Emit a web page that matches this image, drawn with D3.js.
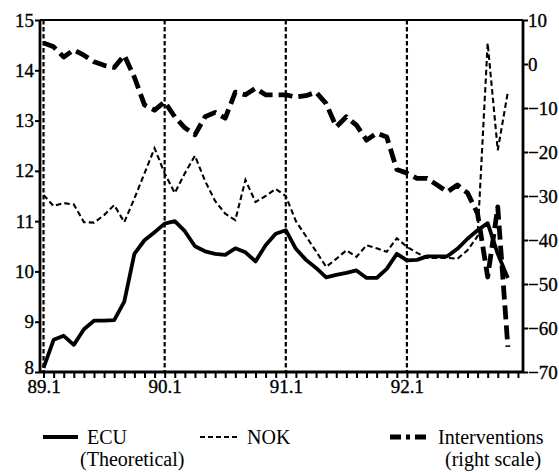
<!DOCTYPE html>
<html><head><meta charset="utf-8">
<script src="https://cdn.jsdelivr.net/npm/d3@7"></script>
<style>
html,body{margin:0;padding:0;background:#fff;}
svg text{font-family:"Liberation Serif","Times New Roman",serif;fill:#000;}
</style></head>
<body><svg id="c" width="559" height="472"></svg>
<script>
// Monthly observations, 89.1 (index 0) through 92.11 (index 46)
const ecu = [8.08,8.64,8.72,8.54,8.85,9.02,9.02,9.03,9.40,10.35,10.62,10.78,10.95,11.00,10.80,10.50,10.40,10.35,10.33,10.46,10.38,10.20,10.52,10.75,10.82,10.45,10.23,10.07,9.88,9.93,9.97,10.02,9.87,9.87,10.05,10.35,10.22,10.23,10.30,10.30,10.30,10.45,10.65,10.82,10.96,10.35,9.87];
const nok = [11.52,11.30,11.36,11.33,10.98,10.97,11.12,11.32,10.98,11.45,11.95,12.45,11.95,11.56,11.95,12.30,11.80,11.40,11.15,11.02,11.82,11.38,11.50,11.64,11.50,11.00,10.70,10.40,10.09,10.25,10.42,10.29,10.52,10.46,10.39,10.66,10.49,10.37,10.27,10.27,10.27,10.25,10.42,10.70,14.54,12.41,13.57];
const interventions = [4.8,3.9,1.6,3.2,2.0,0.5,-0.3,-0.8,2.0,-3.0,-9.3,-10.5,-8.6,-12.0,-14.5,-16.1,-12.0,-11.0,-12.3,-6.4,-7.0,-5.5,-7.0,-7.0,-7.0,-7.5,-7.2,-6.4,-9.0,-14.3,-12.0,-13.9,-17.3,-15.7,-16.6,-24.0,-24.8,-26.0,-26.0,-27.5,-29.1,-27.5,-29.3,-34.0,-48.4,-32.5,-64.3];
const yearLabels = ["89.1","90.1","91.1","92.1"];
const yearIndex = [0,12,24,36];
const leftTicks = [8,9,10,11,12,13,14,15];
const rightTicks = [10,0,-10,-20,-30,-40,-50,-60,-70];
const nMonths = 48;

const L=40, R=523, T=20, B=372;
const svg = d3.select("#c");
const x = d3.scaleLinear().domain([-0.35, 47.5]).range([L, R]);
const yL = d3.scaleLinear().domain([8, 15]).range([B, T]);
const yR = d3.scaleLinear().domain([-70, 10]).range([B, T]);

// vertical dashed reference lines
svg.append("g").selectAll("line").data(yearIndex).join("line")
  .attr("x1", d=>x(d)).attr("x2", d=>x(d)).attr("y1", T).attr("y2", B)
  .attr("stroke","#000").attr("stroke-width",2.2).attr("stroke-dasharray","4.5,2.5");

// series
const idx = d3.range(ecu.length);
const lineL = arr => d3.line().x(i=>x(i)).y(i=>yL(arr[i]));
const lineR = arr => d3.line().x(i=>x(i)).y(i=>yR(arr[i]));
svg.append("path").attr("d", lineL(nok)(idx)).attr("fill","none").attr("stroke","#000")
  .attr("stroke-width",2.1).attr("stroke-dasharray","5.5,3.2");
svg.append("path").attr("d", lineR(interventions)(idx)).attr("fill","none").attr("stroke","#000")
  .attr("stroke-width",4.8).attr("stroke-dasharray","14,6").attr("stroke-linejoin","round");
svg.append("path").attr("d", lineL(ecu)(idx)).attr("fill","none").attr("stroke","#000")
  .attr("stroke-width",3.8).attr("stroke-linejoin","round");

// frame
svg.append("line").attr("x1",L).attr("x2",R).attr("y1",T).attr("y2",T).attr("stroke","#000").attr("stroke-width",2.2);

// axes
const axL = d3.axisLeft(yL).tickValues(leftTicks).tickSize(5).tickFormat(d3.format("d"));
const axR = d3.axisRight(yR).tickValues(rightTicks).tickSize(5).tickFormat(d3.format("d"));
const axB = d3.axisBottom(x).tickValues(d3.range(nMonths)).tickSize(6)
  .tickFormat(i => { const k = yearIndex.indexOf(i); return k>=0 ? yearLabels[k] : ""; });

function style(g){
  g.select(".domain").attr("stroke","#000").attr("stroke-width",2.8);
  g.selectAll(".tick line").attr("stroke","#000").attr("stroke-width",2);
  g.selectAll(".tick text").attr("font-size",19).attr("font-family","Liberation Serif")
    .attr("fill","#000").attr("stroke","#000").attr("stroke-width",0.35);
}
const gL = svg.append("g").attr("transform",`translate(${L},0)`).call(axL).call(style);
gL.select(".domain").attr("d",`M0,${T}V${B}`);
gL.selectAll(".tick text").attr("x",-6);
gL.selectAll(".tick").filter(d=>d===8).select("text").attr("dy","0.1em");
const gR = svg.append("g").attr("transform",`translate(${R},0)`).call(axR).call(style);
gR.select(".domain").attr("d",`M0,${T}V${B}`);
gR.selectAll(".tick text").attr("x",5);
const gB = svg.append("g").attr("transform",`translate(0,${B})`).call(axB).call(style);
gB.select(".domain").attr("d",`M${L},0H${R}`);
gB.selectAll(".tick text").attr("y",8);

// legend
const leg = svg.append("g");
const items = [
  {x1:43,x2:78,w:3.8,dash:null,tx:87,t1:"ECU",t2x:80,t2:"(Theoretical)"},
  {x1:200,x2:240,w:2,dash:"5,3",tx:247,t1:"NOK",t2:null},
  {x1:390,x2:430,w:4.8,dash:"11,5,4,5",tx:438,t1:"Interventions",t2x:445,t2:"(right scale)"}
];
items.forEach(it=>{
  leg.append("line").attr("x1",it.x1).attr("x2",it.x2).attr("y1",437).attr("y2",437)
    .attr("stroke","#000").attr("stroke-width",it.w).attr("stroke-dasharray",it.dash);
  leg.append("text").attr("x",it.tx).attr("y",444).attr("font-size",20).text(it.t1);
  if(it.t2) leg.append("text").attr("x",it.t2x).attr("y",466).attr("font-size",20).text(it.t2);
});
</script></body></html>
